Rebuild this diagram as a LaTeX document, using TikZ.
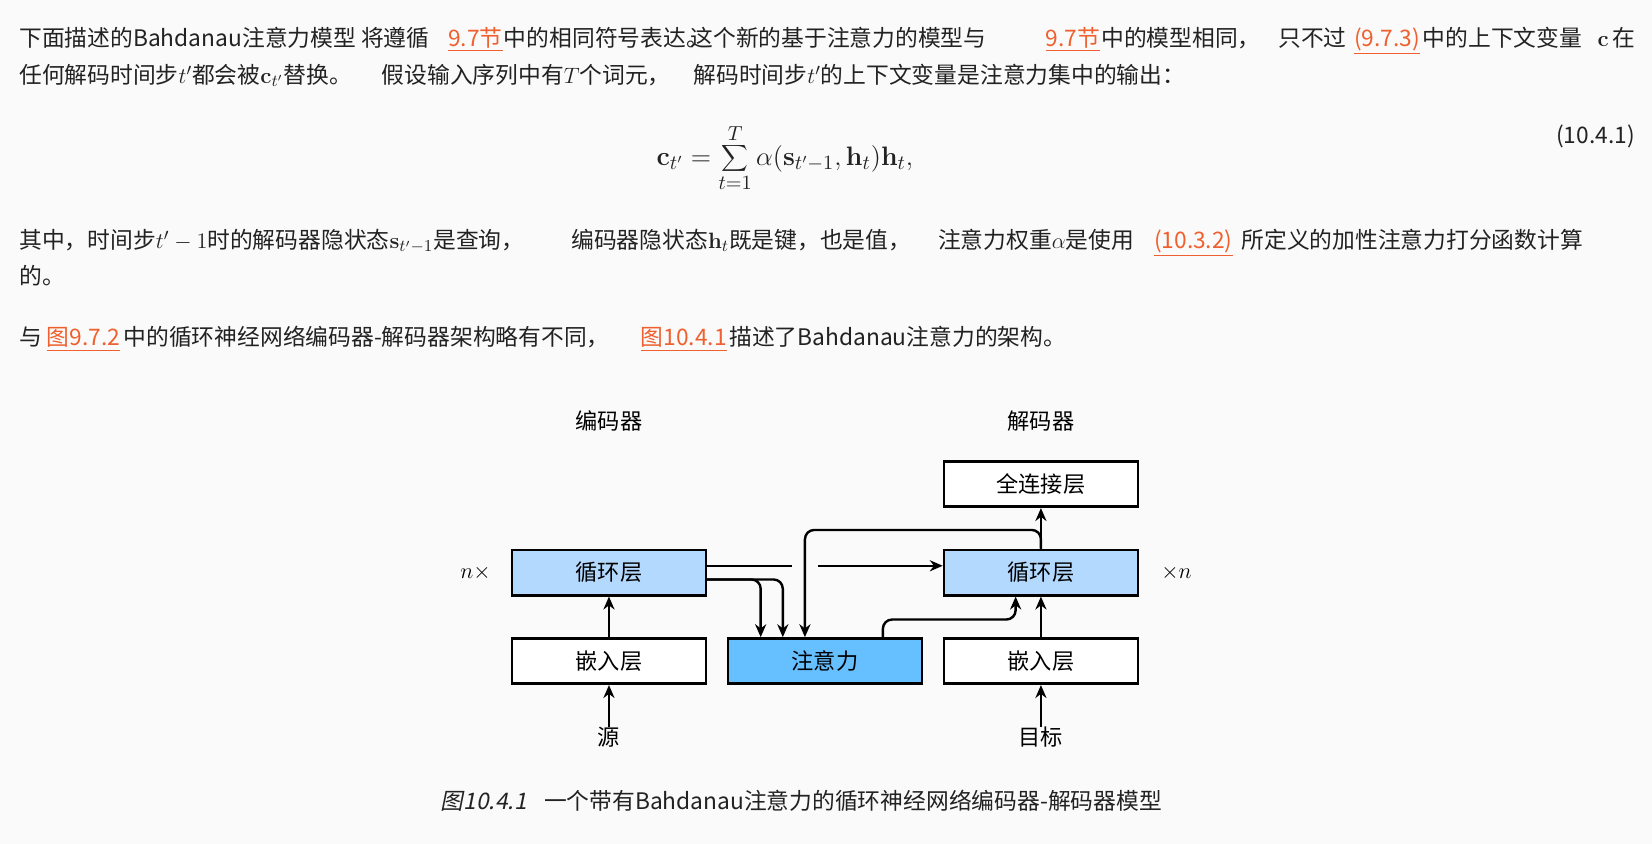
\documentclass[tikz,border=0pt]{standalone}
\usepackage[no-math]{fontspec}
\setmainfont{Noto Sans CJK SC}
\newfontfamily\cjkit{Noto Sans CJK SC}[FakeSlant=0.2]
\usetikzlibrary{arrows.meta}
\definecolor{bg}{HTML}{FAFAFA}
\definecolor{txt}{HTML}{222222}
\definecolor{lnk}{HTML}{F0602E}
\definecolor{rnn}{HTML}{B3D9FF}
\definecolor{att}{HTML}{66BFFF}
\begin{document}
\begin{tikzpicture}[x=0.02cm,y=-0.02cm,
  t/.style={anchor=base west,inner sep=0pt,text=txt,font=\fontsize{12.3}{14}\selectfont},
  lk/.style={t,text=lnk},
  box/.style={draw=black,line width=1.4pt,minimum width=3.68cm,minimum height=0.86cm,inner sep=0pt,font=\fontsize{12}{14}\selectfont,text=black},
  lab/.style={inner sep=0pt,font=\fontsize{12}{14}\selectfont,text=black},
  ar/.style={line width=1.3pt,-{Stealth[length=7pt,width=6pt]},rounded corners=5pt},
  ln/.style={line width=1.3pt,rounded corners=5pt}]
\fill[bg] (0,0) rectangle (1568,801);
\useasboundingbox (0,0) rectangle (1568,801);
% line 1
\node[t] (a1) at (18,44) {下面描述的Bahdanau注意力模型 将遵循};
\node[lk] (a2) at (425,44) {\underline{9.7节}};
\node[t] (a3) at (478,44) {中的相同符号表达。};
\node[t] (a4) at (655,44) {这个新的基于注意力的模型与};
\node[lk] (a5) at (992,44) {\underline{9.7节}};
\node[t] (a6) at (1045,44) {中的模型相同，};
\node[t] (a7) at (1213,44) {只不过};
\node[lk] (a8) at (1285,44) {\underline{(9.7.3)}};
\node[t] (a9) at (1350,44) {中的上下文变量};
\node[t] (a10) at (1516,44) {$\mathbf{c}$};
\node[t] (a11) at (1530,44) {在};
% line 2
\node[t] (b1) at (18,79) {任何解码时间步$t'$都会被$\mathbf{c}_{t'}$替换。};
\node[t] (b2) at (362,79) {假设输入序列中有$T$个词元，};
\node[t] (b3) at (658,79) {解码时间步$t'$的上下文变量是注意力集中的输出：};
% equation
\node[inner sep=0pt,text=txt,font=\fontsize{15}{18}\selectfont] (eq) at (745,150) {$\displaystyle \mathbf{c}_{t'}=\sum_{t=1}^{T}\alpha(\mathbf{s}_{t'-1},\mathbf{h}_t)\mathbf{h}_t,$};
\node[t,anchor=base east] (eqn) at (1552,136) {(10.4.1)};
% line 3
\node[t] (c1) at (18,236) {其中，时间步$t'-1$时的解码器隐状态$\mathbf{s}_{t'-1}$是查询，};
\node[t] (c2) at (542,236) {编码器隐状态$\mathbf{h}_t$既是键，也是值，};
\node[t] (c3) at (890,236) {注意力权重$\alpha$是使用};
\node[lk] (c4) at (1095,236) {\underline{(10.3.2)}};
\node[t] (c5) at (1178,236) {所定义的加性注意力打分函数计算};
\node[t] (d1) at (18,270) {的。};
% line 5
\node[t] (e1) at (18,328) {与};
\node[lk] (e2) at (44,328) {\underline{图9.7.2}};
\node[t] (e3) at (117,328) {中的循环神经网络编码器-解码器架构略有不同，};
\node[lk] (e4) at (608,328) {\underline{图10.4.1}};
\node[t] (e5) at (692,328) {描述了Bahdanau注意力的架构。};
% diagram
\node[lab] (enc) at (578,400) {编码器};
\node[lab] (dec) at (988,400) {解码器};
\node[box,fill=rnn] (er) at (578,543.5) {循环层};
\node[box,fill=white] (ee) at (578,627.5) {嵌入层};
\node[box,fill=att] (at) at (783,627.5) {注意力};
\node[box,fill=rnn] (dr) at (988,543.5) {循环层};
\node[box,fill=white] (de) at (988,627.5) {嵌入层};
\node[box,fill=white] (fc) at (988,459.5) {全连接层};
\node[lab] (src) at (578,700) {源};
\node[lab] (tgt) at (988,700) {目标};
\node[lab,anchor=east] (nx) at (466,544) {$n\times$};
\node[lab,anchor=west] (xn) at (1102,544) {$\times n$};
\coordinate (gapL) at (752,537);
\coordinate (gapR) at (776,537);
\draw[ar] (src.north) -- (ee.south);
\draw[ar] (ee.north) -- (er.south);
\draw[ar] (tgt.north) -- (de.south);
\draw[ar] (de.north) -- (dr.south);
\draw[ar] (dr.north) -- (fc.south);
\draw[ln] (er.east |- gapL) -- (gapL);
\draw[ar] (gapR) -- (dr.west |- gapR);
\draw[ar] (er.east |- 0,550) -- (722,550) -- (at.north -| 722,0);
\draw[ar] (er.east |- 0,550) -- (743,550) -- (at.north -| 743,0);
\draw[ar] (dr.north) -- (988,503) -- (764,503) -- (at.north -| 764,0);
\draw[ar] (at.north -| 838,0) -- (838,588) -- (964,588) -- (dr.south -| 964,0);
% caption
\node[t] (cap1) at (418,768) {\cjkit 图10.4.1};
\node[t] (cap2) at (516,768) {一个带有Bahdanau注意力的循环神经网络编码器-解码器模型};
\end{tikzpicture}
\end{document}
